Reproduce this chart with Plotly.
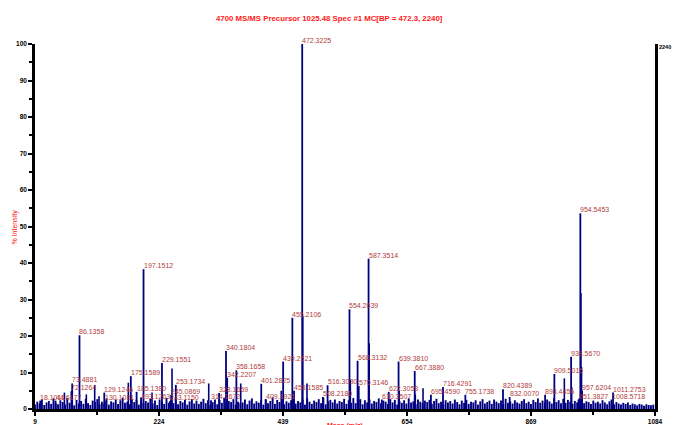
import plotly.graph_objects as go

# ---------------- data ----------------
title_text = "4700 MS/MS Precursor 1025.48 Spec #1 MC[BP = 472.3, 2240]"
x_title = "Mass (m/z)"
y_title = "% Intensity"
base_peak_counts = "2240"

x_ticks = [9, 224, 439, 654, 869, 1084]
y_ticks = [0, 10, 20, 30, 40, 50, 60, 70, 80, 90, 100]

# labelled peaks (m/z, % intensity)
label_mz = [18.1011, 44.6177, 72.1264, 73.4881, 86.1358, 129.1246, 130.1081,
            175.1589, 185.1380, 193.1263, 197.1512, 229.1551, 245.0869, 243.1150,
            253.1734, 314.1672, 328.1659, 340.1804, 342.2207, 358.1658, 401.2825,
            409.1921, 439.2521, 455.2106, 458.1585, 472.3225, 508.2180, 516.3030,
            554.2639, 568.3132, 570.3146, 587.3514, 610.3507, 622.3058, 639.3810,
            667.3880, 695.4590, 716.4291, 755.1738, 820.4389, 832.0070, 893.4456,
            909.5015, 938.5670, 951.3827, 954.5453, 957.6204, 1008.5718, 1011.2753]
label_int = [2.3, 2.3, 4.9, 7.0, 20.2, 4.5, 2.3,
             9.0, 4.7, 2.4, 38.3, 12.6, 3.9, 2.2,
             6.6, 2.4, 4.4, 15.9, 8.6, 10.6, 6.9,
             2.6, 13.0, 25.0, 5.0, 100.0, 3.3, 6.5,
             27.3, 13.2, 6.3, 41.2, 2.6, 4.7, 13.0,
             10.4, 3.9, 6.0, 3.9, 5.4, 3.3, 3.9,
             9.6, 14.3, 2.6, 53.6, 5.0, 2.6, 4.5]

# unlabelled secondary peaks (m/z, % intensity)
other_mz = [60.0, 98.0, 112.5, 120.0, 170.8, 211.9, 246.6, 310.2, 365.7, 436.0,
            473.3, 480.6, 555.7, 569.3, 588.4, 640.4, 668.4, 681.8, 926.8, 939.5,
            955.5, 956.6]
other_int = [4.5, 4.0, 6.6, 3.5, 7.2, 4.5, 11.1, 7.0, 7.0, 5.0,
             25.5, 7.0, 8.0, 6.0, 18.0, 5.0, 4.0, 5.7, 8.4, 6.0,
             31.8, 11.5]

# baseline noise, one value every 4 m/z from 9
noise_start = 9
noise_step = 4
noise_int = [
    1.2, 2.0, 1.5, 2.6, 1.1, 1.8, 2.2, 1.4, 2.9, 1.6,
    1.3, 2.4, 1.9, 1.2, 3.0, 1.7, 2.1, 1.0, 2.5, 1.5,
    2.2, 1.4, 2.8, 1.6, 1.1, 2.3, 1.9, 2.7, 1.3, 2.0,
    1.5, 2.9, 1.2, 2.1, 1.8, 2.6, 1.4, 2.4, 3.1, 1.7,
    2.0, 1.3, 2.7, 1.9, 2.5, 1.2, 3.2, 1.6, 2.2, 1.8,
    2.8, 1.5, 2.3, 1.1, 2.6, 2.0, 1.4, 3.0, 1.7, 2.4,
    1.6, 2.9, 1.3, 2.2, 1.8, 2.5, 1.2, 2.1, 2.7, 1.5,
    2.3, 1.4, 2.0, 2.8, 1.6, 2.4, 1.1, 1.9, 2.6, 1.3,
    2.5, 1.7, 3.1, 1.4, 2.2, 1.9, 2.7, 1.2, 2.0, 1.6,
    1.8, 2.6, 1.3, 2.3, 2.9, 1.5, 2.1, 1.7, 2.4, 1.2,
    2.7, 1.6, 2.2, 3.2, 1.4, 2.5, 1.9, 2.8, 1.3, 2.1,
    1.7, 2.4, 3.0, 1.5, 2.2, 1.8, 2.6, 1.2, 2.9, 2.0,
    1.4, 2.3, 1.9, 2.7, 1.6, 3.1, 1.3, 2.1, 2.5, 1.8,
    2.6, 1.5, 2.2, 1.9, 2.8, 1.4, 2.4, 1.7, 3.0, 1.6,
    2.1, 2.7, 1.3, 2.4, 1.8, 2.6, 1.5, 2.2, 1.9, 2.9,
    1.6, 2.3, 2.0, 1.4, 2.7, 1.8, 2.5, 1.2, 2.2, 1.7,
    2.4, 1.5, 2.9, 1.8, 2.1, 1.3, 2.6, 2.0, 1.6, 2.3,
    1.9, 2.5, 1.4, 2.2, 2.8, 1.6, 2.0, 1.3, 2.4, 1.8,
    2.2, 1.5, 2.6, 1.9, 1.3, 2.3, 1.7, 2.5, 1.4, 2.0,
    1.8, 2.4, 1.2, 2.1, 2.7, 1.5, 1.9, 2.3, 1.4, 2.6,
    2.0, 1.6, 2.3, 1.3, 2.8, 1.7, 2.1, 1.5, 2.4, 1.8,
    1.5, 2.2, 2.7, 1.6, 2.0, 1.4, 2.5, 1.9, 2.9, 1.7,
    2.3, 1.8, 2.6, 2.1, 1.5, 3.0, 1.9, 2.4, 1.6, 2.8,
    1.7, 2.5, 2.0, 1.4, 2.2, 1.8, 2.9, 2.3, 1.6, 2.1,
    1.9, 1.4, 2.3, 1.7, 2.0, 1.5, 2.4, 1.8, 1.3, 2.1,
    1.6, 1.3, 1.9, 1.5, 1.2, 1.7, 1.4, 1.8, 1.1, 1.5,
    1.3, 1.0, 1.4, 1.2, 0.9, 1.3, 1.1, 1.0, 1.2,
]
noise_mz = [noise_start + noise_step * i for i in range(len(noise_int))]

# ---------------- styles ----------------
STICK = "#000080"
LABEL = "#B03C3C"
RED = "#FF1A1A"
FONT = "Liberation Sans, Arial, sans-serif"

W, H = 673, 425
ML, MR, MT, MB = 35, 18, 44, 16
PLOT_W = W - ML - MR


def sticks(mz, inten):
    xs, ys = [], []
    for m, h in zip(mz, inten):
        xs += [m, m, None]
        ys += [0, h, None]
    return xs, ys


fig = go.Figure()
nx, ny = sticks(noise_mz, noise_int)
fig.add_trace(go.Scatter(x=nx, y=ny, mode="lines", line=dict(color=STICK, width=1.9),
                         hoverinfo="skip", showlegend=False))
ox, oy = sticks(other_mz, other_int)
fig.add_trace(go.Scatter(x=ox, y=oy, mode="lines", line=dict(color=STICK, width=1.6),
                         hoverinfo="skip", showlegend=False))
lx, ly = sticks(label_mz, label_int)
fig.add_trace(go.Scatter(x=lx, y=ly, mode="lines", line=dict(color=STICK, width=1.8),
                         hoverinfo="skip", showlegend=False))

annotations = []
for m, h in zip(label_mz, label_int):
    annotations.append(dict(x=m, y=h, xref="x", yref="y", text=f"{m:.4f}",
                            showarrow=False, xanchor="left", yanchor="bottom",
                            xshift=-1, yshift=-1, borderpad=0,
                            font=dict(family=FONT, size=7, color=LABEL)))

annotations += [
    dict(x=(329 - ML) / PLOT_W, y=1, xref="paper", yref="paper", xanchor="center",
         yanchor="middle", yshift=MT - 18,
         text=f"<b>{title_text}</b>", showarrow=False,
         font=dict(family=FONT, size=7.8, color=RED)),
    dict(x=(14 - ML) / PLOT_W, y=0.5, xref="paper", yref="paper", xanchor="center",
         yanchor="middle", text=y_title, showarrow=False,
         textangle=-90, font=dict(family=FONT, size=7, color=RED)),
    dict(x=0.5, y=0, xref="paper", yref="paper", xanchor="center", yanchor="top",
         yshift=-11, text=f"<b>{x_title}</b>", showarrow=False,
         font=dict(family=FONT, size=7, color=RED)),
    dict(x=1, y=1, xref="paper", yref="paper", xanchor="left", yanchor="middle",
         xshift=2, yshift=-3, text=f"<b>{base_peak_counts}</b>", showarrow=False,
         font=dict(family=FONT, size=5.5, color="black")),
]

fig.update_layout(
    width=W, height=H,
    margin=dict(l=ML, r=MR, t=MT, b=MB, autoexpand=False),
    paper_bgcolor="white", plot_bgcolor="white",
    showlegend=False,
    annotations=annotations,
    xaxis=dict(range=[9, 1084], tickmode="array", tickvals=x_ticks,
               ticktext=[f"<b>{v}</b>" for v in x_ticks],
               showgrid=False, zeroline=False, showline=True, linecolor="black",
               linewidth=2.5, ticks="outside", ticklen=4, tickwidth=1.5,
               tickcolor="black", automargin=False,
               minor=dict(tickmode="linear", tick0=9, dtick=107.5, ticks="outside",
                          ticklen=3, tickwidth=1.5, tickcolor="black"),
               tickfont=dict(family=FONT, size=6.5, color="black")),
    yaxis=dict(range=[0, 100], tickmode="array", tickvals=y_ticks,
               ticktext=[f"<b>{v}</b>" for v in y_ticks],
               showgrid=False, zeroline=False, showline=True, linecolor="black",
               linewidth=2.5, mirror=True, ticks="outside", ticklen=4, tickwidth=1.5,
               tickcolor="black", automargin=False,
               minor=dict(tickmode="linear", tick0=0, dtick=5, ticks="outside",
                          ticklen=3, tickwidth=1.5, tickcolor="black"),
               tickfont=dict(family=FONT, size=6.5, color="black")),
)

fig.write_html(
    "out.html",
    config={"displayModeBar": False},
    post_script="document.documentElement.style.margin='0';"
                "document.body.style.margin='0';"
                "document.body.style.overflow='hidden';"
                "document.documentElement.style.overflow='hidden';",
)
